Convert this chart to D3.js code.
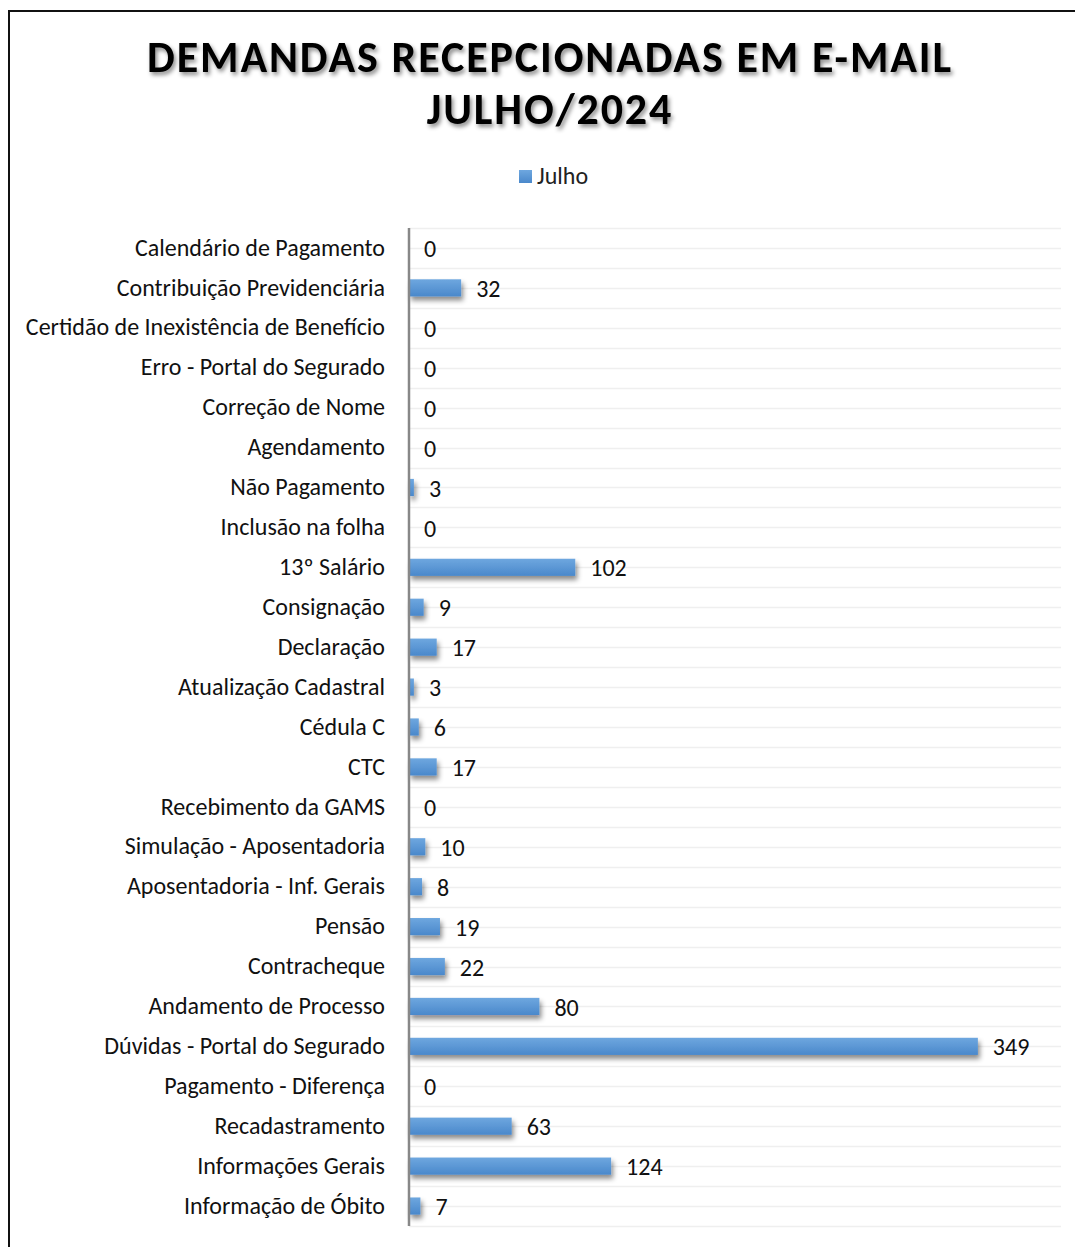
<!DOCTYPE html>
<html>
<head>
<meta charset="utf-8">
<script src="https://cdn.jsdelivr.net/npm/d3@7"></script>
<style>
  body { margin: 0; background: #fff; }
  svg { display: block; }
</style>
</head>
<body>
<div id="chart"></div>
<script>
// chart data
var categories = [
    "Calendário de Pagamento",
    "Contribuição Previdenciária",
    "Certidão de Inexistência de Benefício",
    "Erro - Portal do Segurado",
    "Correção de Nome",
    "Agendamento",
    "Não Pagamento",
    "Inclusão na folha",
    "13º Salário",
    "Consignação",
    "Declaração",
    "Atualização Cadastral",
    "Cédula C",
    "CTC",
    "Recebimento da GAMS",
    "Simulação - Aposentadoria",
    "Aposentadoria - Inf. Gerais",
    "Pensão",
    "Contracheque",
    "Andamento de Processo",
    "Dúvidas - Portal do Segurado",
    "Pagamento - Diferença",
    "Recadastramento",
    "Informações Gerais",
    "Informação de Óbito"
];
var julho = [0, 32, 0, 0, 0, 0, 3, 0, 102, 9, 17, 3, 6, 17, 0, 10, 8, 19, 22, 80, 349, 0, 63, 124, 7];
var seriesName = "Julho";
var titleLines = ["DEMANDAS RECEPCIONADAS EM E-MAIL", "JULHO/2024"];

var W = 1075, H = 1247;
var font = "Carlito, 'Noto Sans', sans-serif";

var svg = d3.select("#chart").append("svg")
    .attr("width", W)
    .attr("height", H);

var defs = svg.append("defs");

// bar gradient, lighter on top
var grad = defs.append("linearGradient")
    .attr("id", "barGrad")
    .attr("x1", 0).attr("y1", 0).attr("x2", 0).attr("y2", 1);
grad.append("stop").attr("offset", "0%").attr("stop-color", "#6ea7df");
grad.append("stop").attr("offset", "100%").attr("stop-color", "#4a88cb");

var shadow = defs.append("filter")
    .attr("id", "barShadow")
    .attr("x", "-20%").attr("y", "-50%").attr("width", "140%").attr("height", "250%");
shadow.append("feDropShadow")
    .attr("dx", 2).attr("dy", 4).attr("stdDeviation", 2.5)
    .attr("flood-color", "#000").attr("flood-opacity", 0.45);

var tshadow = defs.append("filter")
    .attr("id", "titleShadow")
    .attr("x", "-10%").attr("y", "-30%").attr("width", "120%").attr("height", "160%");
tshadow.append("feDropShadow")
    .attr("dx", 2).attr("dy", 3).attr("stdDeviation", 2)
    .attr("flood-color", "#000").attr("flood-opacity", 0.45);

// outer frame (runs off the right/bottom edges)
svg.append("path")
    .attr("d", "M9,1260 L9,11 L1090,11")
    .attr("fill", "none")
    .attr("stroke", "#111")
    .attr("stroke-width", 2);

// title
svg.append("g")
    .attr("filter", "url(#titleShadow)")
    .selectAll("text")
    .data(titleLines)
    .enter().append("text")
    .attr("x", 550)
    .attr("y", function (d, i) { return 72 + i * 52; })
    .attr("text-anchor", "middle")
    .style("font-family", font)
    .style("font-weight", "bold")
    .style("font-size", "44px")
    .style("letter-spacing", "1.9px")
    .style("fill", "#000")
    .text(function (d) { return d; });

// legend
var leg = svg.append("g");
leg.append("rect")
    .attr("x", 519).attr("y", 170)
    .attr("width", 13).attr("height", 13)
    .attr("fill", "url(#barGrad)");
leg.append("text")
    .attr("x", 537).attr("y", 184)
    .style("font-family", font)
    .style("font-size", "24px")
    .style("fill", "#222")
    .text(seriesName);

// plot area
var plot = { left: 409, right: 1061, top: 228, bottom: 1226 };

var x = d3.scaleLinear()
    .domain([0, 400])
    .range([plot.left, plot.right]);

var y = d3.scaleBand()
    .domain(categories)
    .range([plot.top, plot.bottom])
    .paddingInner(0.57)
    .paddingOuter(0.285);

var step = y.step();

// gridlines at band edges and band centres
var gridYs = [];
for (var i = 0; i <= categories.length * 2; i++) {
    gridYs.push(plot.top + i * step / 2);
}
svg.append("g")
    .selectAll("line")
    .data(gridYs)
    .enter().append("line")
    .attr("x1", plot.left)
    .attr("x2", plot.right)
    .attr("y1", function (d) { return Math.round(d) + 0.5; })
    .attr("y2", function (d) { return Math.round(d) + 0.5; })
    .attr("stroke", "#efefef")
    .attr("stroke-width", 1.5);

// bars
svg.append("g")
    .attr("filter", "url(#barShadow)")
    .selectAll("rect")
    .data(julho)
    .enter().append("rect")
    .attr("x", x(0))
    .attr("y", function (d, i) { return y(categories[i]); })
    .attr("width", function (d) { return x(d) - x(0); })
    .attr("height", y.bandwidth())
    .attr("fill", "url(#barGrad)");

// value labels
svg.append("g")
    .selectAll("text")
    .data(julho)
    .enter().append("text")
    .attr("x", function (d) { return x(d) + 15; })
    .attr("y", function (d, i) { return y(categories[i]) + y.bandwidth() / 2; })
    .attr("dy", "0.38em")
    .style("font-family", font)
    .style("font-size", "24px")
    .style("fill", "#111")
    .text(function (d) { return d; });

// category axis
var yAxis = d3.axisLeft(y).tickSize(0).tickPadding(24);
var ax = svg.append("g")
    .attr("transform", "translate(" + plot.left + ",0)")
    .call(yAxis);
ax.select(".domain")
    .attr("stroke", "#888")
    .attr("stroke-width", 2.5)
    .attr("d", "M0," + plot.top + "V" + plot.bottom);
ax.selectAll("text")
    .attr("dy", "0.32em")
    .style("font-family", font)
    .style("font-size", "24px")
    .style("fill", "#111");
</script>
</body>
</html>
